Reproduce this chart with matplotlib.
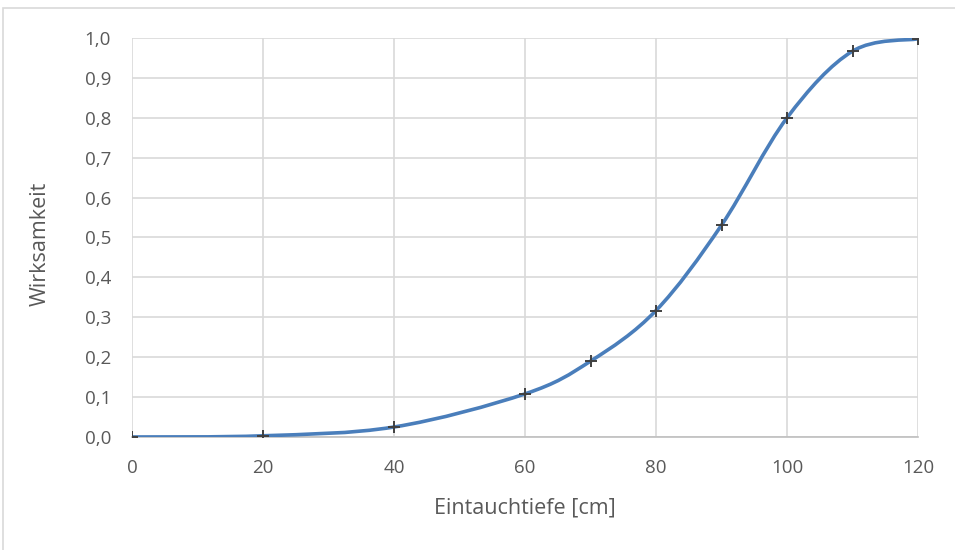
import matplotlib
matplotlib.use("Agg")
import matplotlib.pyplot as plt
from matplotlib.path import Path
from matplotlib.patches import PathPatch, Rectangle
from matplotlib.ticker import FuncFormatter, MultipleLocator

depth = [0, 20, 40, 60, 70, 80, 90, 100, 110, 120]
effect = [0.0, 0.003, 0.025, 0.108, 0.19, 0.317, 0.531, 0.80, 0.967, 0.998]

plt.rcParams['font.family'] = ['Open Sans', 'DejaVu Sans']

fig = plt.figure(figsize=(9.55, 5.5), dpi=100)
ax = fig.add_axes([0.1382, 0.2055, 0.8231, 0.7254])

# border of chart area
fig.patches.append(Rectangle((0.0035, -0.1), 1.2, 1.0855, transform=fig.transFigure,
                             fill=False, edgecolor='#d9d9d9', linewidth=1.2, zorder=0))

# Excel-like smoothed line via cubic Bezier (Catmull-Rom control points)
n = len(depth)
verts = [(depth[0], effect[0])]
codes = [Path.MOVETO]
for i in range(n - 1):
    x0, y0 = (depth[i - 1], effect[i - 1]) if i > 0 else (depth[i], effect[i])
    x1, y1 = depth[i], effect[i]
    x2, y2 = depth[i + 1], effect[i + 1]
    x3, y3 = (depth[i + 2], effect[i + 2]) if i + 2 < n else (depth[i + 1], effect[i + 1])
    c1 = (x1 + (x2 - x0) / 6, y1 + (y2 - y0) / 6)
    c2 = (x2 - (x3 - x1) / 6, y2 - (y3 - y1) / 6)
    verts += [c1, c2, (x2, y2)]
    codes += [Path.CURVE4] * 3
ax.add_patch(PathPatch(Path(verts, codes), fill=False, edgecolor='#4a7ebb',
                       linewidth=2.6, capstyle='round', zorder=3))
ax.plot(depth, effect, linestyle='none', marker='+', markersize=8,
        markeredgewidth=1.4, color='#404040', zorder=4)

ax.set_xlim(0, 120)
ax.set_ylim(0, 1.0)
ax.xaxis.set_major_locator(MultipleLocator(20))
ax.yaxis.set_major_locator(MultipleLocator(0.1))
ax.yaxis.set_major_formatter(FuncFormatter(lambda v, p: f"{v:.1f}".replace('.', ',')))
ax.grid(True, color='#d9d9d9', linewidth=1.2)
ax.set_axisbelow(True)
for s in ['top', 'right', 'left']:
    ax.spines[s].set_visible(False)
ax.spines['bottom'].set_color('#bfbfbf')
ax.spines['bottom'].set_linewidth(1.2)
ax.tick_params(length=0, labelsize=13.5, colors='#595959')
ax.tick_params(axis='x', pad=16)
ax.tick_params(axis='y', pad=15)

fig.text(525 / 955, 1 - 508 / 550, 'Eintauchtiefe [cm]', fontsize=15.5, color='#595959',
         ha='center', va='center')
fig.text(40 / 955, 1 - 244 / 550, 'Wirksamkeit', fontsize=15.5, color='#595959',
         ha='center', va='center', rotation=90)

fig.savefig('out.png', dpi=100)
